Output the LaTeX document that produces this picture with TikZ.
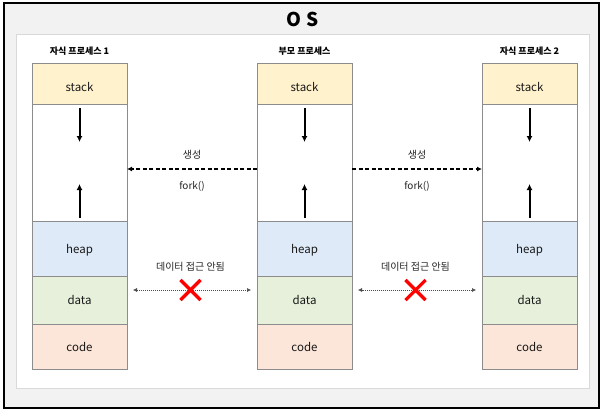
\documentclass[tikz,border=0pt]{standalone}
\usepackage{fontspec}
\setmainfont{Noto Sans CJK KR}
\usepackage{tikz}
\usetikzlibrary{calc}
\usetikzlibrary{arrows.meta}
\usetikzlibrary{positioning,shapes.misc}
\definecolor{stackColor}{HTML}{FFF2CC}
\definecolor{heapColor}{HTML}{DEEAF8}
\definecolor{dataColor}{HTML}{E6F0DA}
\definecolor{codeColor}{HTML}{FCE6D9}
\definecolor{segLine}{HTML}{8C8C8C}
\definecolor{frameGray}{HTML}{F2F2F2}
\definecolor{innerLine}{HTML}{D9D9D9}
\newcommand{\lowerText}[2]{\raisebox{-#1}[\height][\depth]{#2}}
\tikzset{
    segment/.style={ % height of the memory part
    ,   rectangle
    ,   draw=segLine
    ,   line width=0.8pt
    ,   minimum width=95pt
    ,   minimum height=#1
    ,   inner sep=0pt
    ,   outer sep=0pt
    ,   text=black!90
    ,   font={\fontsize{11.5pt}{12}\selectfont}
    },
    procTitle/.style={
    ,   text=black
    ,   font={\fontsize{9pt}{10}\bfseries}
    },
    edgeText/.style={
    ,   text=black!85
    ,   font={\fontsize{10pt}{11}\selectfont}
    },
    growArrow/.style={
    ,   line width=2pt
    ,   -{Latex[length=6pt,width=6pt]}
    },
    forkArrow/.style={
    ,   line width=1.5pt
    ,   dash pattern=on 4pt off 2.5pt
    ,   -{Latex[length=5pt,width=5pt]}
    },
    dataArrow/.style={
    ,   black!70
    ,   line width=0.5pt
    ,   dash pattern=on 1pt off 1pt
    ,   {Latex[length=4pt,width=4pt]}-{Latex[length=4pt,width=4pt]}
    ,   shorten <=6pt
    ,   shorten >=6pt
    },
    noAccess/.style={
    ,   cross out
    ,   draw=red
    ,   line width=3.2pt
    ,   minimum size=17pt
    ,   inner sep=0pt
    }
}

\begin{document}
\begin{tikzpicture}[x=1pt, y=-1pt]
			\useasboundingbox (0,0) rectangle (604,413);
			\draw[line width=2pt, fill=frameGray] (4,3) rectangle (599,408);
			\draw[line width=0.8pt, draw=innerLine, fill=white] (16,34) rectangle (589,388);
			\node[font={\fontsize{19pt}{20}\bfseries}] (os) at (303,19) {O\hspace{5pt}S};
			
			\foreach \col/\x/\name in {L/79.5/자식 프로세스 1, M/304.5/부모 프로세스, R/529.5/자식 프로세스 2}{
				\node[procTitle] (title\col) at (\x,51) {\name};
				\node[segment=41pt, fill=stackColor, anchor=north] (stack\col) at (\x,63) {\lowerText{3.5pt}{stack}};
				\node[segment=117pt, fill=white, below=0pt of stack\col] (free\col) {};
				\node[segment=55pt, fill=heapColor, below=0pt of free\col] (heap\col) {\lowerText{2pt}{heap}};
				\node[segment=48pt, fill=dataColor, below=0pt of heap\col] (data\col) {data};
				\node[segment=45pt, fill=codeColor, below=0pt of data\col] (code\col) {code};
				\draw[growArrow] ([yshift=-4pt]free\col.north) -- ([yshift=-38pt]free\col.north);
				\draw[growArrow] ([yshift=3pt]free\col.south) -- ([yshift=37pt]free\col.south);
			}
			
			% parent -> children
			\foreach \child/\from/\to in {L/west/east, R/east/west}{
				\draw[forkArrow] ([yshift=-6.5pt]freeM.\from) -- ([yshift=-6.5pt]free\child.\to);
				\node[edgeText] (spawn\child) at ($(free\child.\to)!0.5!(freeM.\from)+(0,-7.5)$) {생성};
				\node[edgeText] (fork\child) at ($(free\child.\to)!0.5!(freeM.\from)+(0,23.5)$) {fork()};
				\node[edgeText] (noData\child) at ($(data\child.\to)!0.5!(dataM.\from)+(-1.5,-33)$) {데이터 접근 안됨};
				\draw[dataArrow] ([yshift=10pt]data\child.\to) -- ([yshift=10pt]dataM.\from);
				\node[noAccess] (block\child) at ($(data\child.\to)!0.5!(dataM.\from)+(-1.5,-10)$) {};
			}
\end{tikzpicture}
\end{document}
